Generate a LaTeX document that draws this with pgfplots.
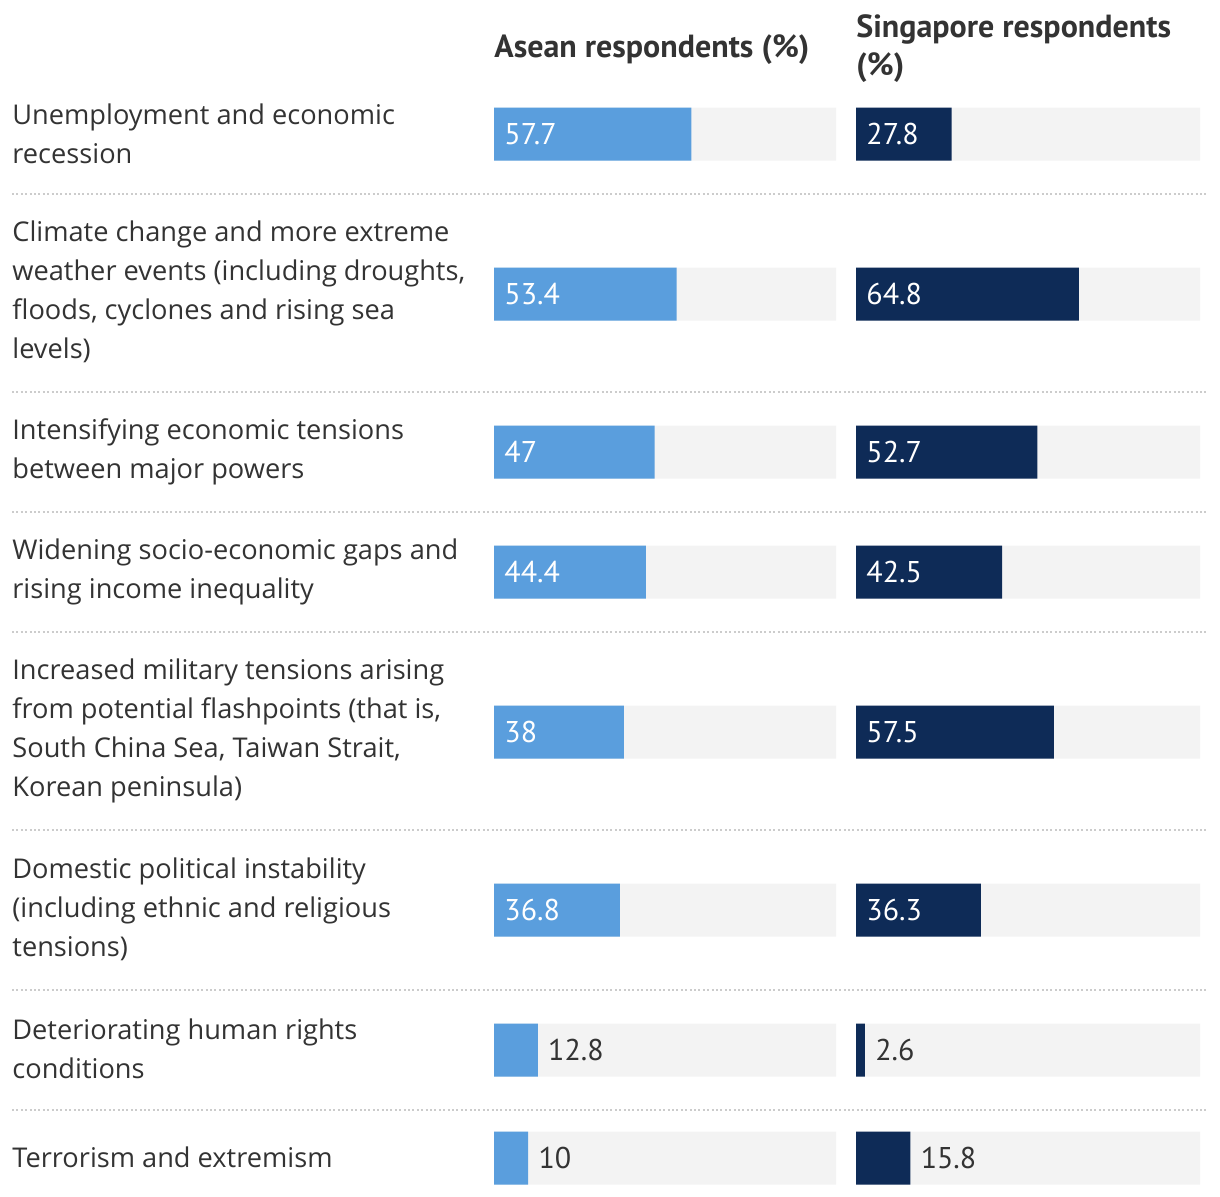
\documentclass[border=0pt]{standalone}
\usepackage{pgfplots}
\pgfplotsset{compat=1.18}
\usepackage{fontspec}
\setmainfont{Open Sans}
\newfontfamily\numfont{PT Sans}
\definecolor{asean}{HTML}{5A9EDD}
\definecolor{sg}{HTML}{0E2B57}
\definecolor{track}{HTML}{F3F3F3}
\definecolor{txt}{HTML}{333333}
\definecolor{sep}{HTML}{CCCCCC}
\begin{document}
\begin{tikzpicture}[x=0.5pt,y=-0.5pt]
\useasboundingbox (0,0) rectangle (1220,1196);
\pgfplotsset{
  rowaxis/.style={
    scale only axis, height=598pt, xmin=0, xmax=100, ymin=0, ymax=1196,
    y dir=reverse, axis lines=none, clip=false, anchor=north west,
    xbar, bar width=26.5pt, bar shift=0pt,
  }
}
% Asean column
\begin{axis}[rowaxis, width=171pt, at={(247pt,0pt)}]
\addplot[fill=track, draw=none] coordinates {(100,134) (100,294) (100,452) (100,572) (100,732) (100,910) (100,1050) (100,1158)};
\addplot[fill=asean, draw=none] coordinates {(57.7,134) (53.4,294) (47,452) (44.4,572) (38,732) (36.8,910) (12.8,1050) (10,1158)};
\begin{scope}[every node/.style={anchor=west, inner sep=0pt, font=\numfont\fontsize{15pt}{18pt}\selectfont}]
\node[text=white, xshift=5pt] at (axis cs:0,134) {57.7};
\node[text=white, xshift=5pt] at (axis cs:0,294) {53.4};
\node[text=white, xshift=5pt] at (axis cs:0,452) {47};
\node[text=white, xshift=5pt] at (axis cs:0,572) {44.4};
\node[text=white, xshift=5pt] at (axis cs:0,732) {38};
\node[text=white, xshift=5pt] at (axis cs:0,910) {36.8};
\node[text=txt, xshift=5pt] at (axis cs:12.8,1050) {12.8};
\node[text=txt, xshift=5pt] at (axis cs:10,1158) {10};
\end{scope}
\end{axis}
% Singapore column
\begin{axis}[rowaxis, width=172pt, at={(428pt,0pt)}]
\addplot[fill=track, draw=none] coordinates {(100,134) (100,294) (100,452) (100,572) (100,732) (100,910) (100,1050) (100,1158)};
\addplot[fill=sg, draw=none] coordinates {(27.8,134) (64.8,294) (52.7,452) (42.5,572) (57.5,732) (36.3,910) (2.6,1050) (15.8,1158)};
\begin{scope}[every node/.style={anchor=west, inner sep=0pt, font=\numfont\fontsize{15pt}{18pt}\selectfont}]
\node[text=white, xshift=5pt] at (axis cs:0,134) {27.8};
\node[text=white, xshift=5pt] at (axis cs:0,294) {64.8};
\node[text=white, xshift=5pt] at (axis cs:0,452) {52.7};
\node[text=white, xshift=5pt] at (axis cs:0,572) {42.5};
\node[text=white, xshift=5pt] at (axis cs:0,732) {57.5};
\node[text=white, xshift=5pt] at (axis cs:0,910) {36.3};
\node[text=txt, xshift=5pt] at (axis cs:2.6,1050) {2.6};
\node[text=txt, xshift=5pt] at (axis cs:15.8,1158) {15.8};
\end{scope}
\end{axis}
% separators
\foreach \yy in {194,392,512,632,830,990,1110}
  \draw[sep, line width=1pt, dash pattern=on 1pt off 1.2pt] (12,\yy) -- (1208,\yy);
% headers
\begin{scope}[every node/.style={anchor=west, inner sep=0pt, align=left, text=txt, font=\numfont\bfseries\fontsize{16pt}{19pt}\selectfont}]
\node at (494,50) {Asean respondents (\%)};
\node at (856,49) {Singapore respondents\\(\%)};
\end{scope}
% row labels
\begin{scope}[every node/.style={anchor=west, inner sep=0pt, align=left, text=txt, font=\fontsize{13.6pt}{19.5pt}\selectfont}]
\node at (12,134) {Unemployment and economic\\recession};
\node at (12,292) {Climate change and more extreme\\weather events (including droughts,\\floods, cyclones and rising sea\\levels)};
\node at (12,452) {Intensifying economic tensions\\between major powers};
\node at (12,572) {Widening socio-economic gaps and\\rising income inequality};
\node at (12,731) {Increased military tensions arising\\from potential flashpoints (that is,\\South China Sea, Taiwan Strait,\\Korean peninsula)};
\node at (12,909) {Domestic political instability\\(including ethnic and religious\\tensions)};
\node at (12,1049) {Deteriorating human rights\\conditions};
\node at (12,1157) {Terrorism and extremism};
\end{scope}
\end{tikzpicture}
\end{document}
